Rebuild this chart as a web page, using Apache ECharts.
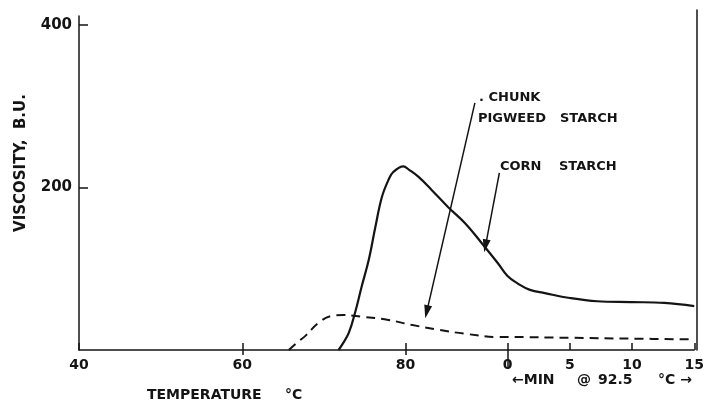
<!DOCTYPE html>
<html><head><meta charset="utf-8">
<script src="https://cdn.jsdelivr.net/npm/echarts@6/dist/echarts.min.js"></script>
<style>html,body{margin:0;padding:0;background:#fff}#c{width:707px;height:401px}</style>
</head><body><div id="c"></div>
<script>
// Corn starch: heating phase (°C -> B.U.)
const cornTemp     = [71.8, 72.2, 73.05, 73.9, 74.6, 75.5, 76.3, 77.1, 77.9, 78.5, 79.75, 80.4, 81.6, 83.2, 85.2, 87.3, 89.3, 91.3];
const cornTempVisc = [0,    6,    21,    49,   77,   111,  151,  188,  209,  219,  226,   222,  213,  197,  176,  156,  132,  107];
// Corn starch: hold phase at 92.5 °C (min -> B.U.)
const cornMin      = [0,  0.8, 1.8, 3.0, 5.0, 7.2, 9.9, 12.6, 15];
const cornMinVisc  = [91, 82,  74,  70,  64,  60,  59,  58,   54];
// Chunk pigweed starch: heating phase
const pigTemp      = [65.7, 66.7, 67.8, 69.4, 71.0, 72.4, 74.6, 77.9, 80.7, 84.0, 87.3, 91.3];
const pigTempVisc  = [0,    9,    18,   34,   42,   43,   41,   37,   31,   25,   20,   16];
// Chunk pigweed starch: hold phase
const pigMin       = [0,  5,  10, 15];
const pigMinVisc   = [16, 15, 14, 13];
// Axis ticks
const tempTicks = [40, 60, 80];
const minTicks  = [0, 5, 10, 15];
const yTicks    = [200, 400];
const HOLD_T = 92.5;      // hold temperature, °C (0 min)
const MIN_SCALE = 1.525;  // axis units per minute of hold
// Annotation arrows [from, to] in data units (temperature-axis units, B.U.)
const pigArrow  = [[88.5, 304], [82.6, 47]];
const cornArrow = [[91.5, 218], [89.8, 128]];

const xm = m => HOLD_T + m * MIN_SCALE;
const XMAX = xm(15);
const cornData = cornTemp.map((t, i) => [t, cornTempVisc[i]])
  .concat(cornMin.map((m, i) => [xm(m), cornMinVisc[i]]));
const pigData = pigTemp.map((t, i) => [t, pigTempVisc[i]])
  .concat(pigMin.map((m, i) => [xm(m), pigMinVisc[i]]));
const xTickVals = tempTicks.concat(minTicks.map(xm));
const fmtX = v => v < HOLD_T - 0.01 ? String(Math.round(v)) : String(Math.round((v - HOLD_T) / MIN_SCALE));

const INK = '#141414';
const F = 'DejaVu Sans';
const font = s => 'bold ' + s + 'px "' + F + '"';

const chart = echarts.init(document.getElementById('c'), null, {renderer: 'canvas'});
const baseX = {type: 'value', min: 40, max: XMAX, splitLine: {show: false}, position: 'bottom', gridIndex: 0};
chart.setOption({
  animation: false,
  backgroundColor: '#fff',
  grid: [
    {left: 79, right: 10, top: 16, bottom: 51},
    {left: 79, right: 10, top: 10, bottom: 51}
  ],
  xAxis: [
    Object.assign({}, baseX, {
      axisLine: {show: true, lineStyle: {color: INK, width: 1.5}},
      axisTick: {show: true, inside: true, length: 7, customValues: xTickVals, lineStyle: {color: INK, width: 1.5}},
      axisLabel: {show: true, customValues: xTickVals, formatter: fmtX, margin: 8,
        color: INK, fontFamily: F, fontWeight: 'bold', fontSize: 14}
    }),
    Object.assign({}, baseX, {
      axisLine: {show: false},
      axisTick: {show: true, inside: false, length: 5, customValues: [60, 80], lineStyle: {color: INK, width: 1.5}},
      axisLabel: {show: false}
    }),
    Object.assign({}, baseX, {
      axisLine: {show: false},
      axisTick: {show: true, inside: false, length: 19, customValues: [HOLD_T], lineStyle: {color: INK, width: 1.5}},
      axisLabel: {show: false}
    }),
    Object.assign({}, baseX, {
      gridIndex: 1, show: false
    })
  ],
  yAxis: [
    {
      type: 'value', min: 0, max: 411, splitLine: {show: false}, gridIndex: 0, position: 'left',
      axisLine: {show: true, lineStyle: {color: INK, width: 1.5}},
      axisTick: {show: true, inside: true, length: 9, customValues: yTicks, lineStyle: {color: INK, width: 1.5}},
      axisLabel: {show: true, customValues: yTicks, margin: 7, color: INK, fontFamily: F, fontWeight: 'bold', fontSize: 15}
    },
    {
      type: 'value', min: 0, max: 418, splitLine: {show: false}, gridIndex: 1, position: 'right',
      axisLine: {show: true, lineStyle: {color: INK, width: 1.5}},
      axisTick: {show: false}, axisLabel: {show: false}
    }
  ],
  series: [
    {type: 'line', name: 'Corn starch', data: cornData, showSymbol: false, smooth: 0.4,
      lineStyle: {color: INK, width: 2.2}},
    {type: 'line', name: 'Chunk pigweed starch', data: pigData, showSymbol: false, smooth: 0.4,
      lineStyle: {color: INK, width: 2, type: [9, 6]}},
    {type: 'line', name: 'annotations', data: [], clip: false,
      markLine: {
        silent: true, animation: false, label: {show: false},
        symbol: ['none', 'triangle'], symbolSize: [8, 13],
        lineStyle: {color: INK, width: 1.5, type: 'solid'},
        data: [
          [{coord: pigArrow[0]}, {coord: pigArrow[1]}],
          [{coord: cornArrow[0]}, {coord: cornArrow[1]}]
        ]
      }},
    {type: 'line', xAxisIndex: 3, yAxisIndex: 1, data: []}
  ],
  graphic: [
    {type: 'text', x: 21, y: 163, rotation: Math.PI / 2,
      style: {text: 'VISCOSITY,  B.U.', font: font(15), fill: INK, textAlign: 'center', textVerticalAlign: 'middle'}},
    {type: 'text', x: 147, y: 395,
      style: {text: 'TEMPERATURE', font: font(14), fill: INK, textAlign: 'left', textVerticalAlign: 'middle'}},
    {type: 'text', x: 285, y: 395,
      style: {text: '°C', font: font(14), fill: INK, textAlign: 'left', textVerticalAlign: 'middle'}},
    {type: 'text', x: 512, y: 380,
      style: {text: '←MIN', font: font(14), fill: INK, textAlign: 'left', textVerticalAlign: 'middle'}},
    {type: 'text', x: 577, y: 380,
      style: {text: '@', font: font(14), fill: INK, textAlign: 'left', textVerticalAlign: 'middle'}},
    {type: 'text', x: 598, y: 380,
      style: {text: '92.5', font: font(14), fill: INK, textAlign: 'left', textVerticalAlign: 'middle'}},
    {type: 'text', x: 658, y: 380,
      style: {text: '°C →', font: font(14), fill: INK, textAlign: 'left', textVerticalAlign: 'middle'}},
    {type: 'text', x: 479, y: 98,
      style: {text: '. CHUNK', font: font(13), fill: INK, textAlign: 'left', textVerticalAlign: 'middle'}},
    {type: 'text', x: 478, y: 119,
      style: {text: 'PIGWEED', font: font(13), fill: INK, textAlign: 'left', textVerticalAlign: 'middle'}},
    {type: 'text', x: 560, y: 119,
      style: {text: 'STARCH', font: font(13), fill: INK, textAlign: 'left', textVerticalAlign: 'middle'}},
    {type: 'text', x: 500, y: 167,
      style: {text: 'CORN', font: font(13), fill: INK, textAlign: 'left', textVerticalAlign: 'middle'}},
    {type: 'text', x: 559, y: 167,
      style: {text: 'STARCH', font: font(13), fill: INK, textAlign: 'left', textVerticalAlign: 'middle'}}
  ]
});
</script>
</body></html>
